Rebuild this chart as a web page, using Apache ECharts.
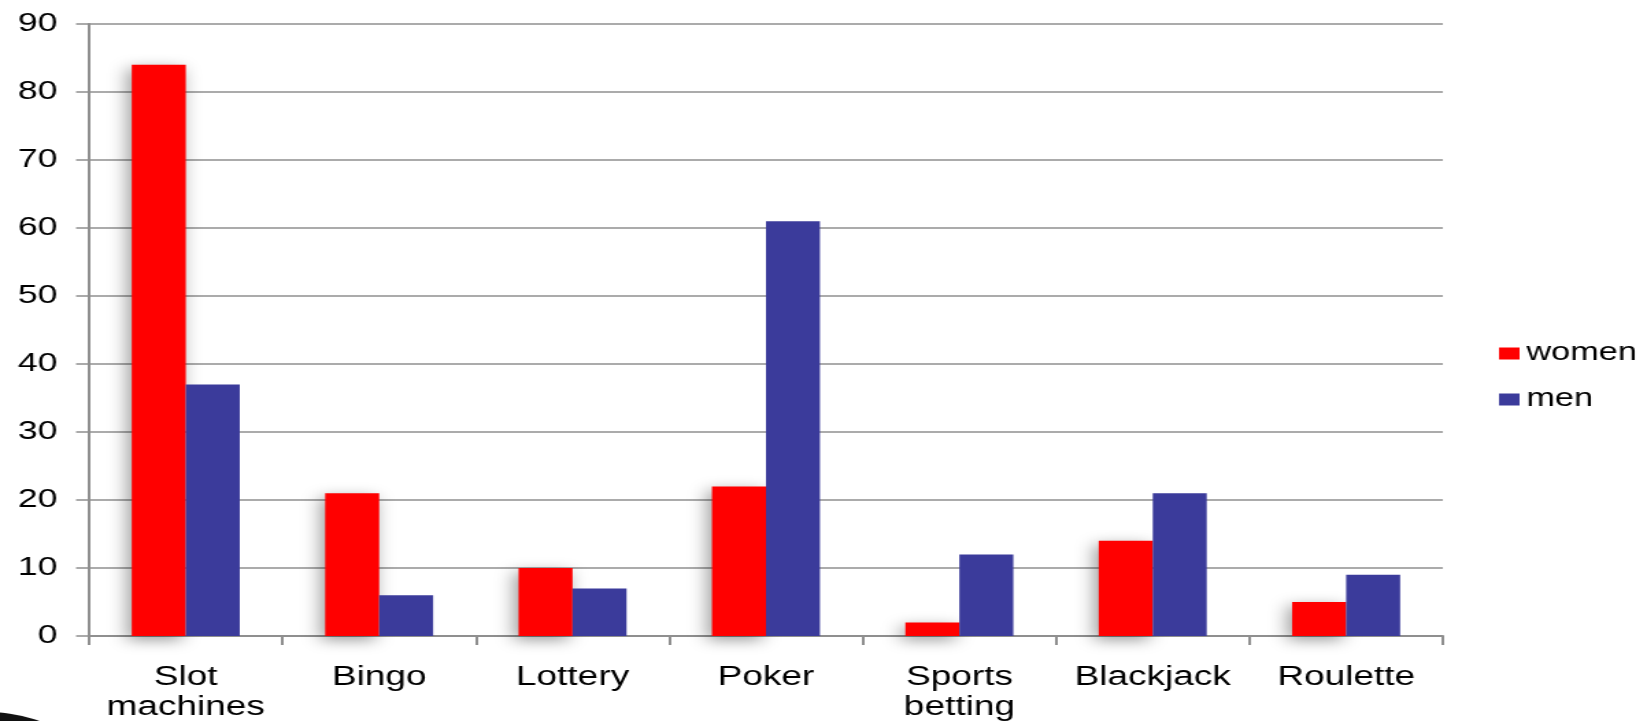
<!DOCTYPE html>
<html>
<head>
<meta charset="utf-8">
<script src="https://cdn.jsdelivr.net/npm/echarts@6/dist/echarts.min.js"></script>
<style>
  html, body { margin: 0; padding: 0; background: #fff; overflow: hidden; }
  /* chart is laid out narrower and widened horizontally, giving the broad lettering */
  #chart { width: 1202px; height: 721px; transform-origin: 0 0; transform: scaleX(1.3702); }
</style>
</head>
<body>
<div id="chart"></div>
<script>
const categories = ['Slot\nmachines', 'Bingo', 'Lottery', 'Poker', 'Sports\nbetting', 'Blackjack', 'Roulette'];
const women = [84, 21, 10, 22, 2, 14, 5];
const men = [37, 6, 7, 61, 12, 21, 9];
const seriesNames = ['women', 'men'];
const yTicks = { min: 0, max: 90, interval: 10 };

const font = '"Liberation Sans", Arial, sans-serif';
const gridGray = '#8f8f8f';

const chart = echarts.init(document.getElementById('chart'));
chart.setOption({
  backgroundColor: '#ffffff',
  animation: false,
  grid: {
    left: 65, right: 149, top: 24, bottom: 85,
    containLabel: false,
    outerBoundsMode: 'none'
  },
  legend: {
    orient: 'vertical',
    left: 1089,
    top: 336,
    itemWidth: 15,
    itemHeight: 12,
    itemGap: 21,
    icon: 'rect',
    data: seriesNames,
    textStyle: { fontFamily: font, fontSize: 25, color: '#000', lineHeight: 25 }
  },
  xAxis: {
    type: 'category',
    data: categories,
    axisLine: { show: true, lineStyle: { color: gridGray, width: 2 } },
    axisTick: { show: true, length: 9, lineStyle: { color: gridGray, width: 2 } },
    axisLabel: {
      fontFamily: font, fontSize: 27, color: '#000', lineHeight: 30,
      margin: 27, interval: 0
    }
  },
  yAxis: {
    type: 'value',
    min: yTicks.min,
    max: yTicks.max,
    interval: yTicks.interval,
    axisLine: { show: true, lineStyle: { color: gridGray, width: 2 } },
    axisTick: { show: true, length: 9.5, lineStyle: { color: gridGray, width: 1.5 } },
    splitLine: { show: true, lineStyle: { color: gridGray, width: 1.5 } },
    axisLabel: { fontFamily: font, fontSize: 26, color: '#000', margin: 23 }
  },
  series: [
    {
      name: seriesNames[0],
      type: 'bar',
      data: women,
      barWidth: 39.4,
      barGap: '0%',
      itemStyle: {
        color: '#ff0000',
        shadowColor: 'rgba(0,0,0,0.4)',
        shadowBlur: 14,
        shadowOffsetX: -3,
        shadowOffsetY: 4
      }
    },
    {
      name: seriesNames[1],
      type: 'bar',
      data: men,
      barWidth: 39.4,
      barGap: '0%',
      itemStyle: { color: '#3b3b9b' }
    }
  ],
  graphic: [
    {
      type: 'circle',
      shape: { cx: -10, cy: 800, r: 88 },
      style: { fill: '#111111' },
      silent: true
    }
  ]
});
</script>
</body>
</html>
